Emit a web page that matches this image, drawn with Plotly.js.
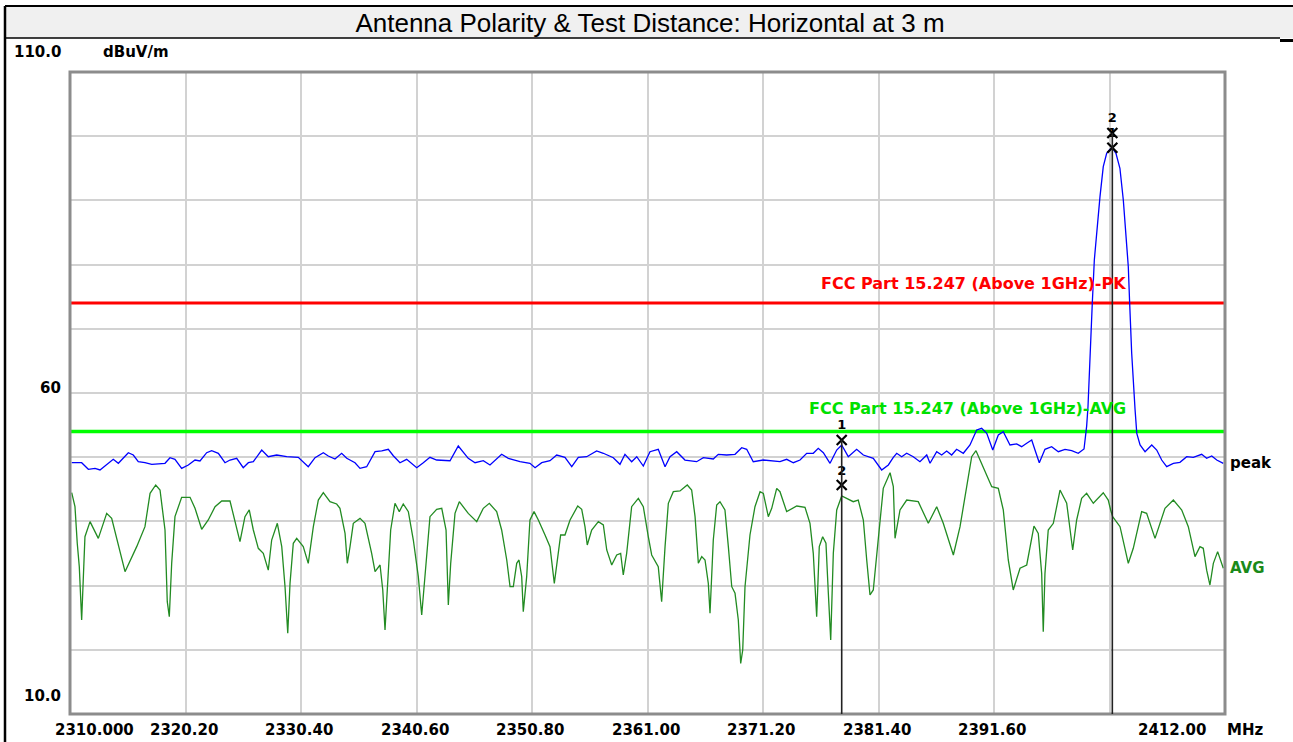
<!DOCTYPE html>
<html>
<head>
<meta charset="utf-8">
<script src="https://cdn.plot.ly/plotly-3.0.1.min.js"></script>
<style>
  html, body { margin: 0; padding: 0; background: #ffffff; }
  #chart { width: 1293px; height: 742px; }
</style>
</head>
<body>
<div id="chart"></div>
<script>
// ---------------- data ----------------
const chartTitle = 'Antenna Polarity & Test Distance: Horizontal at 3 m';

const peakFreq = [2310.15,2311.03,2311.62,2312.21,2312.65,2313.24,2313.82,2314.27,2314.57,2315.15,2315.59,2316.03,2316.62,2317.22,2318.39,2318.83,2319.27,2319.86,2320.45,2321.04,2321.48,2322.07,2322.51,2323.10,2323.69,2324.13,2324.72,2325.30,2325.75,2326.19,2326.93,2327.51,2328.25,2329.14,2330.16,2331.04,2331.64,2332.37,2332.81,2333.40,2333.99,2334.44,2335.17,2335.61,2336.20,2336.94,2337.53,2338.11,2338.55,2339.14,2339.73,2340.62,2341.20,2341.79,2342.38,2343.56,2344.29,2345.17,2345.77,2346.50,2347.09,2348.12,2348.71,2349.74,2350.62,2351.07,2351.66,2352.39,2352.98,2353.71,2354.31,2354.89,2355.63,2356.51,2357.10,2357.98,2358.57,2359.01,2359.60,2360.05,2360.63,2361.22,2361.95,2362.55,2362.99,2363.58,2364.31,2365.34,2365.93,2366.81,2367.25,2367.99,2368.73,2369.32,2369.76,2370.34,2371.23,2371.97,2372.70,2373.29,2373.88,2374.47,2375.06,2375.64,2376.08,2376.53,2377.12,2377.71,2378.15,2378.73,2379.47,2380.06,2380.94,2381.68,2382.27,2382.71,2383.01,2383.45,2383.89,2384.47,2385.06,2385.66,2385.95,2386.54,2386.98,2387.42,2387.86,2388.30,2388.89,2389.48,2390.07,2390.51,2390.96,2391.49,2391.98,2392.42,2393.01,2393.60,2394.04,2394.49,2394.93,2395.22,2395.60,2396.10,2396.69,2397.28,2397.87,2398.46,2399.04,2399.55,2399.78,2399.90,2400.08,2400.28,2400.46,2400.67,2400.96,2401.25,2401.55,2401.84,2402.08,2402.37,2402.72,2403.02,2403.26,2403.46,2403.57,2403.76,2404.06,2404.21,2404.50,2404.94,2405.53,2405.97,2406.41,2406.85,2407.44,2408.02,2408.62,2409.20,2409.94,2410.38,2410.83,2411.27,2411.85];
const peakLevel = [49.14,49.14,48.12,48.27,48.01,48.79,49.67,49.05,49.67,50.70,50.34,49.30,49.14,48.89,49.05,49.92,49.67,48.27,48.79,49.56,49.41,50.70,51.01,50.61,49.14,49.56,49.83,48.37,49.14,49.30,51.12,50.08,50.34,50.08,49.98,48.52,49.92,50.70,50.19,49.72,50.61,49.83,49.14,48.27,48.52,50.86,50.97,51.23,50.23,49.14,49.67,48.37,49.14,49.98,49.56,49.45,51.75,49.83,49.14,49.45,48.79,50.45,49.83,49.30,49.05,48.37,49.14,49.45,50.34,49.98,48.52,49.98,50.08,50.97,50.61,49.92,48.89,50.45,49.30,50.08,48.63,50.86,51.23,48.52,50.08,50.86,49.56,49.30,49.92,49.72,50.45,50.34,50.45,51.48,51.23,49.30,49.56,49.41,49.30,49.67,49.14,49.56,50.61,50.61,51.39,50.70,49.05,51.12,51.90,50.08,51.23,50.34,49.83,48.01,48.79,49.98,50.61,50.08,50.61,50.08,49.30,50.34,49.05,50.86,50.34,50.97,50.34,51.23,50.61,51.90,54.24,54.50,53.72,51.12,53.46,53.98,51.90,52.06,51.64,52.17,52.68,51.12,49.14,51.23,51.64,50.86,51.23,51.01,50.61,51.28,54.81,57.87,66.70,73.97,80.72,85.39,90.58,95.25,97.34,97.96,98.12,97.34,95.00,90.06,84.88,79.67,74.49,66.18,57.35,53.72,51.90,50.86,51.90,51.12,49.56,48.52,49.05,49.20,50.08,49.98,50.45,49.83,50.19,49.56,49.05];

const avgFreq = [2310.15,2310.44,2310.64,2310.82,2311.03,2311.17,2311.32,2311.77,2312.50,2313.24,2313.68,2314.86,2315.89,2316.62,2317.07,2317.57,2317.95,2318.39,2318.59,2318.77,2318.98,2319.27,2319.86,2320.60,2321.04,2321.63,2322.21,2322.81,2323.40,2324.13,2324.57,2325.01,2325.45,2325.83,2326.19,2326.63,2327.07,2327.51,2327.81,2328.31,2328.70,2328.99,2329.23,2329.43,2329.72,2330.02,2330.60,2331.04,2331.49,2331.93,2332.37,2332.96,2333.55,2333.84,2334.29,2334.49,2334.73,2335.02,2335.61,2336.05,2336.64,2336.94,2337.38,2337.62,2337.82,2338.06,2338.32,2338.70,2339.08,2339.43,2339.88,2340.32,2340.76,2341.06,2341.35,2341.79,2342.38,2342.83,2343.21,2343.41,2343.62,2344.00,2344.38,2345.17,2345.92,2346.50,2347.03,2347.68,2348.12,2348.57,2348.86,2349.15,2349.45,2349.65,2349.89,2350.03,2350.33,2350.62,2350.98,2351.36,2351.95,2352.39,2352.77,2353.03,2353.33,2353.71,2354.16,2354.84,2355.19,2355.48,2355.68,2356.07,2356.66,2357.10,2357.40,2357.84,2358.28,2358.63,2358.86,2359.16,2359.60,2360.19,2360.63,2361.07,2361.37,2361.95,2362.25,2362.55,2362.84,2363.28,2363.87,2364.51,2364.90,2365.20,2365.49,2365.79,2366.08,2366.37,2366.52,2366.81,2367.11,2367.40,2367.84,2368.14,2368.44,2368.73,2369.02,2369.23,2369.41,2369.61,2370.05,2370.49,2370.94,2371.23,2371.67,2371.97,2372.41,2372.70,2373.29,2374.18,2374.91,2375.35,2375.64,2375.94,2376.17,2376.47,2376.76,2376.97,2377.18,2377.41,2377.71,2378.15,2379.17,2379.61,2380.06,2380.36,2380.65,2380.94,2381.38,2381.82,2382.42,2382.71,2382.86,2383.30,2383.89,2384.91,2385.80,2386.54,2387.12,2388.01,2388.60,2389.19,2389.63,2390.01,2390.66,2391.40,2391.98,2392.42,2392.86,2393.30,2393.90,2394.49,2395.13,2395.51,2395.81,2395.95,2396.10,2396.39,2396.84,2397.43,2398.02,2398.55,2398.90,2399.34,2399.78,2400.37,2401.25,2401.69,2401.90,2402.08,2402.73,2403.46,2403.90,2404.64,2405.08,2405.82,2406.70,2407.44,2408.18,2408.76,2409.35,2409.79,2410.08,2410.38,2410.67,2410.97,2411.35,2411.85];
const avgLevel = [44.47,42.29,36.59,32.95,24.64,32.70,37.62,39.96,37.36,41.25,40.47,32.17,36.07,39.18,44.37,45.67,44.89,38.66,27.49,25.16,33.47,40.74,43.75,43.75,42.04,38.77,40.22,42.29,43.18,43.18,40.22,36.84,40.74,41.78,38.66,35.81,35.03,32.41,37.10,39.70,36.07,29.83,22.57,30.35,36.59,37.36,36.07,33.47,39.18,43.33,44.47,43.07,42.71,42.04,38.14,33.47,36.07,39.70,40.47,39.70,35.03,32.17,33.21,29.32,23.08,31.39,38.66,42.82,41.52,42.71,41.52,37.10,31.39,25.42,31.39,40.74,41.89,42.04,38.66,26.98,33.47,41.25,43.07,41.25,39.96,42.04,42.82,41.52,38.66,33.99,29.83,29.83,33.47,33.99,31.39,25.94,31.39,40.22,41.52,40.22,37.88,36.07,30.35,33.99,37.88,37.88,40.22,42.40,41.89,39.18,36.33,38.66,39.96,39.44,35.55,33.21,34.77,35.03,31.65,35.03,42.29,43.59,42.29,37.62,34.77,32.95,27.49,36.07,42.82,44.63,44.74,45.67,44.89,40.74,33.47,34.51,33.99,30.35,25.68,37.10,42.55,43.07,41.78,36.07,29.83,28.80,24.64,17.89,19.97,29.83,37.88,42.29,44.63,44.37,40.74,42.04,45.15,44.63,41.52,42.40,42.19,39.70,35.03,25.16,36.07,37.62,36.59,28.80,21.53,35.03,41.78,43.96,43.07,43.33,40.22,33.99,28.54,29.32,37.10,45.15,47.58,45.41,37.36,41.78,43.33,43.07,39.70,42.29,39.70,34.77,39.18,45.67,50.08,51.01,48.27,45.41,45.15,41.78,33.99,29.32,32.70,33.21,39.28,38.14,31.91,22.82,31.91,38.66,39.70,44.89,42.82,35.55,40.22,43.59,44.37,42.82,44.47,43.33,41.78,40.74,39.18,33.47,35.81,41.52,41.25,37.36,42.04,43.33,41.78,39.18,34.51,36.07,35.81,32.41,30.09,33.47,35.29,32.70];

const limitFreq = [2310, 2412];
const pkLimit = [74, 74];
const avgLimit = [54, 54];
const pkLimitName = 'FCC Part 15.247 (Above 1GHz)-PK';
const avgLimitName = 'FCC Part 15.247 (Above 1GHz)-AVG';

const markerFreq = [2378.15, 2378.15, 2402.05, 2402.05];
const markerLevel = [52.68, 45.67, 98.2, 100.5];
const markerLabel = ['1', '2', '1', '2'];

const xTickVals = [2310, 2320.2, 2330.4, 2340.6, 2350.8, 2361.0, 2371.2, 2381.4, 2391.6, 2401.8, 2412];
const xTickText = ['2310.000', '2320.20', '2330.40', '2340.60', '2350.80', '2361.00', '2371.20', '2381.40', '2391.60', '', '2412.00'];
const yTickVals = [110, 60, 10];
const yTickText = ['110.0', '60', '10.0'];
const yUnit = 'dBuV/m';
const xUnit = 'MHz';

// ---------------- layout helpers ----------------
const W = 1293, H = 742;
const M = { l: 70, r: 68, t: 72, b: 28 };
const PW = W - M.l - M.r, PH = H - M.t - M.b;
const px = x => (x - M.l) / PW;          // pixel -> paper x
const py = y => (H - M.b - y) / PH;      // pixel -> paper y

const lblFont = { family: 'DejaVu Sans, Arial, sans-serif', size: 15, color: '#000000', weight: 'bold' };

const traces = [
  { x: limitFreq, y: pkLimit, mode: 'lines', line: { color: '#ff0000', width: 3 }, hoverinfo: 'skip', showlegend: false },
  { x: limitFreq, y: avgLimit, mode: 'lines', line: { color: '#00ff00', width: 3.5 }, hoverinfo: 'skip', showlegend: false },
  { x: avgFreq, y: avgLevel, mode: 'lines', line: { color: '#228b22', width: 1.3 }, showlegend: false },
  { x: peakFreq, y: peakLevel, mode: 'lines', line: { color: '#0000ff', width: 1.3 }, showlegend: false },
  { x: markerFreq, y: markerLevel, mode: 'markers+text', text: markerLabel, textposition: 'top center',
    textfont: { family: 'DejaVu Sans, Arial, sans-serif', size: 13, color: '#000000', weight: 'bold' },
    marker: { symbol: 'x-thin-open', size: 10, color: '#000000', line: { color: '#000000', width: 2.2 } },
    showlegend: false, cliponaxis: false }
];

const annotations = [];
xTickVals.forEach((v, i) => {
  if (!xTickText[i]) return;
  let anchor = 'center', shift = -2;
  if (i === 0) { anchor = 'left'; shift = -17; }
  if (i === xTickVals.length - 1) { anchor = 'right'; shift = -17; }
  annotations.push({ x: v, xref: 'x', y: 0, yref: 'paper', yanchor: 'middle', yshift: -15.5,
    xanchor: anchor, xshift: shift, text: xTickText[i], showarrow: false, font: lblFont });
});
const yShifts = [20, 5, 18.5];
yTickVals.forEach((v, i) => {
  annotations.push({ x: 0, xref: 'paper', xanchor: 'right', xshift: -7, y: v, yref: 'y', yanchor: 'middle',
    yshift: yShifts[i], text: yTickText[i], showarrow: false, font: lblFont });
});
annotations.push({ x: 0, xref: 'paper', xanchor: 'left', xshift: 31, y: yTickVals[0], yref: 'y', yanchor: 'middle',
  yshift: 20, text: yUnit, showarrow: false, font: lblFont });
annotations.push({ x: 1, xref: 'paper', xanchor: 'left', xshift: 0, y: 0, yref: 'paper', yanchor: 'middle',
  yshift: -15.5, text: xUnit, showarrow: false, font: lblFont });
// limit labels
annotations.push({ x: 2403.43, xref: 'x', xanchor: 'right', y: pkLimit[0], yref: 'y', yanchor: 'middle', yshift: 20,
  text: pkLimitName, showarrow: false, font: Object.assign({}, lblFont, { size: 16, color: '#ff0000' }) });
annotations.push({ x: 2403.43, xref: 'x', xanchor: 'right', y: avgLimit[0], yref: 'y', yanchor: 'middle', yshift: 23,
  text: avgLimitName, showarrow: false, font: Object.assign({}, lblFont, { size: 16, color: '#00e000' }) });
// trace end labels
annotations.push({ x: 1, xref: 'paper', xanchor: 'left', xshift: 3, y: peakLevel[peakLevel.length - 1], yref: 'y',
  yanchor: 'middle', text: 'peak', showarrow: false, font: lblFont });
annotations.push({ x: 1, xref: 'paper', xanchor: 'left', xshift: 3, y: avgLevel[avgLevel.length - 1], yref: 'y',
  yanchor: 'middle', text: 'AVG', showarrow: false, font: Object.assign({}, lblFont, { color: '#1a8a1a' }) });

const shapes = [
  // title bar
  { type: 'rect', xref: 'paper', yref: 'paper', x0: px(5), x1: px(1293), y0: py(38), y1: py(6),
    fillcolor: '#f0f0f0', line: { width: 0 }, layer: 'below' },
  { type: 'line', xref: 'paper', yref: 'paper', x0: px(5), x1: px(1293), y0: py(6), y1: py(6), line: { color: '#000', width: 2 } },
  { type: 'line', xref: 'paper', yref: 'paper', x0: px(5), x1: px(1280), y0: py(38), y1: py(38), line: { color: '#000', width: 1.5 } },
  { type: 'line', xref: 'paper', yref: 'paper', x0: px(1280), x1: px(1293), y0: py(40.5), y1: py(40.5), line: { color: '#000', width: 3 } },
  { type: 'line', xref: 'paper', yref: 'paper', x0: px(5), x1: px(5), y0: py(742), y1: py(6), line: { color: '#000', width: 2.5 } },
  // plot frame
  { type: 'rect', xref: 'paper', yref: 'paper', x0: 0, x1: 1, y0: 0, y1: 1, line: { color: '#8c8c8c', width: 3 }, layer: 'above' }
];
// marker drop lines
[0, 2].forEach(i => {
  const top = Math.max(markerLevel[i], markerLevel[i + 1]);
  shapes.push({ type: 'line', xref: 'x', yref: 'y', x0: markerFreq[i], x1: markerFreq[i], y0: 10, y1: top,
    line: { color: '#222222', width: 1.6 }, layer: 'above' });
});

const layout = {
  width: W, height: H,
  margin: M,
  paper_bgcolor: '#ffffff', plot_bgcolor: '#ffffff',
  title: { text: chartTitle, xref: 'container', x: 0.5027, yref: 'container', y: 1 - 23 / H, yanchor: 'middle', xanchor: 'center',
    font: { family: 'Liberation Sans, Arial, sans-serif', size: 26, color: '#000000' } },
  xaxis: { range: [2310, 2412], tickvals: xTickVals, showticklabels: false, ticks: '', showgrid: true,
    gridcolor: '#d2d2d2', gridwidth: 2, zeroline: false, showline: false, fixedrange: true },
  yaxis: { range: [10, 110], tick0: 10, dtick: 10, showticklabels: false, ticks: '', showgrid: true,
    gridcolor: '#d2d2d2', gridwidth: 2, zeroline: false, showline: false, fixedrange: true },
  showlegend: false,
  annotations: annotations,
  shapes: shapes
};

Plotly.newPlot('chart', traces, layout, { displayModeBar: false, staticPlot: true });
</script>
</body>
</html>
